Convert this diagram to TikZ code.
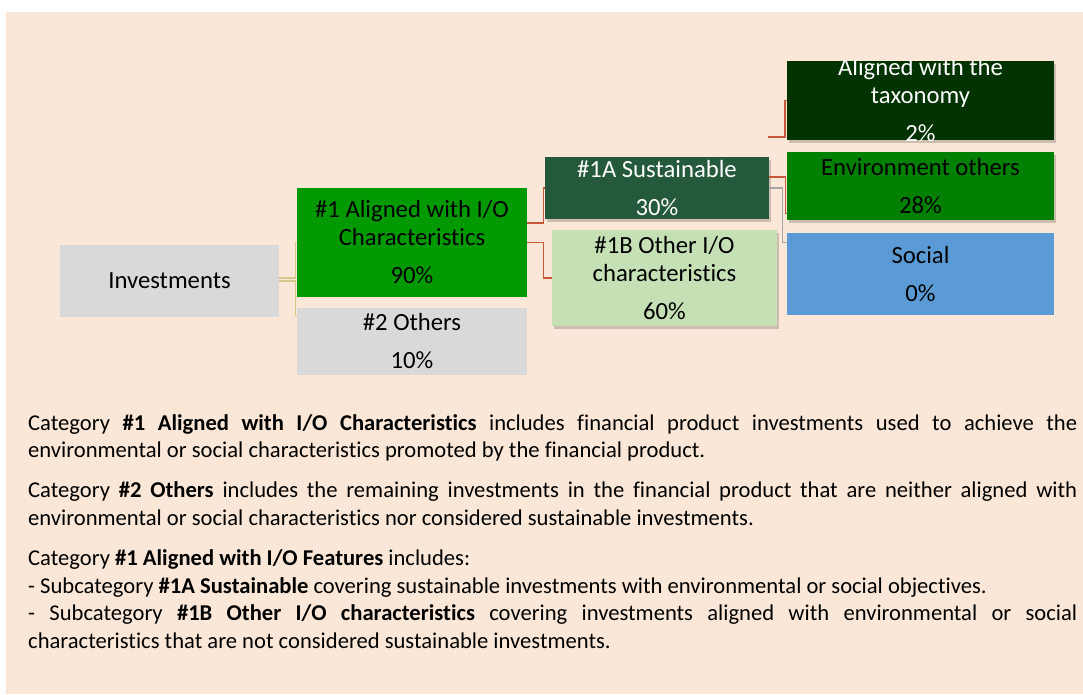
\documentclass[tikz,border=0pt]{standalone}
\usepackage{fontspec}
\setmainfont{Carlito}[Ligatures=NoCommon]
\usetikzlibrary{shadows}

\definecolor{bgpeach}{HTML}{FAE7D7}
\definecolor{boxgray}{HTML}{D9D9D9}
\definecolor{alignedgreen}{HTML}{009900}
\definecolor{sustgreen}{HTML}{245A3B}
\definecolor{othergreen}{HTML}{C5E0B4}
\definecolor{taxgreen}{HTML}{003300}
\definecolor{envgreen}{HTML}{008000}
\definecolor{socialblue}{HTML}{5B9BD5}
\definecolor{linered}{HTML}{C8583A}
\definecolor{linetan}{HTML}{D5C88A}
\definecolor{linegray}{HTML}{A6A6A6}

\tikzset{
  box/.style={rectangle, inner sep=0pt, align=center,
    font=\fontsize{24.7}{28}\selectfont},
  boxshade/.style={drop shadow={shadow xshift=1.5pt, shadow yshift=-2.5pt,
    opacity=0.18, fill=black}},
  link/.style={line width=1.3pt, color=linered},
}

\begin{document}
\begin{tikzpicture}[x=1pt, y=-1pt]
   \useasboundingbox (0,0) rectangle (1083,694);
   \fill[bgpeach] (6,12) rectangle (1083,694);

   \node(inv)[box, fill=boxgray, minimum width=219pt, minimum height=72pt]
     at (169.5,281) {Investments};
   \node(a1)[box, fill=alignedgreen, minimum width=230pt, minimum height=109pt]
     at (412,242.5) {\#1 Aligned with I/O\\Characteristics\\[10pt]90\%};
   \node(o2)[box, fill=boxgray, minimum width=230pt, minimum height=67pt]
     at (412,341.5) {\#2 Others\\[10pt]10\%};

   \node(s1a)[box, boxshade, fill=sustgreen, text=white, minimum width=224pt, minimum height=62pt]
     at (657,188) {\#1A Sustainable\\[10pt]30\%};
   \node(o1b)[box, boxshade, fill=othergreen, minimum width=225pt, minimum height=96pt]
     at (664.5,278) {\#1B Other I/O\\characteristics\\[10pt]60\%};

   \node(tax)[box, boxshade, fill=taxgreen, minimum width=267pt, minimum height=79pt]
     at (920.5,100.5) {};
   \begin{scope}
     \clip (tax.north west) rectangle (tax.south east);
     \node(taxtext)[box, text=white] at (tax.center) {Aligned with the\\taxonomy\\[10pt]2\%};
   \end{scope}
   \node(env)[box, boxshade, fill=envgreen, minimum width=267pt, minimum height=68pt]
     at (920.5,186) {Environment others\\[10pt]28\%};
   \node(soc)[box, fill=socialblue, minimum width=267pt, minimum height=82pt]
     at (920.5,274) {Social\\[10pt]0\%};

   % connectors
   \draw[link, color=linetan] ([yshift=3pt]inv.east) -- ++(16,0) |- (a1.west);
   \draw[link, color=linetan] (inv.east) -- ++(16,0) |- ([yshift=-8pt]o2.north west);

   \draw[link] ([yshift=19.5pt]a1.east) -- ++(16,0) |- (s1a.west);
   \draw[link] (a1.east) -- ++(16,0) |- (o1b.west);

   \coordinate(taxfoot) at (768,137);
   \draw[link] (taxfoot) -- ++(17,0) |- (tax.west);
   \draw[link] ([yshift=11pt]s1a.east) -- ++(16,0) |- ([yshift=-62pt]env.north west);
   \draw[link, color=linegray] (s1a.east) -- ++(13,0) |- ([yshift=-10pt]soc.north west);

   % explanation
   \node(desc)[anchor=north west, inner sep=0pt, text width=1049pt, align=justify,
     font=\fontsize{22.6}{27.6}\selectfont] at (28,414) {%
     \setlength\parskip{12.5pt}\setlength\parindent{0pt}%
     Category \textbf{\#1 Aligned with I/O Characteristics} includes financial product investments used to achieve the\linebreak
     environmental or social characteristics promoted by the financial product.\par
     Category \textbf{\#2 Others} includes the remaining investments in the financial product that are neither aligned with\linebreak
     environmental or social characteristics nor considered sustainable investments.\par
     Category \textbf{\#1 Aligned with I/O Features} includes:\newline
     - Subcategory \textbf{\#1A Sustainable} covering sustainable investments with environmental or social objectives.\newline
     - Subcategory \textbf{\#1B Other I/O characteristics} covering investments aligned with environmental or social\linebreak
     characteristics that are not considered sustainable investments.};
\end{tikzpicture}
\end{document}
